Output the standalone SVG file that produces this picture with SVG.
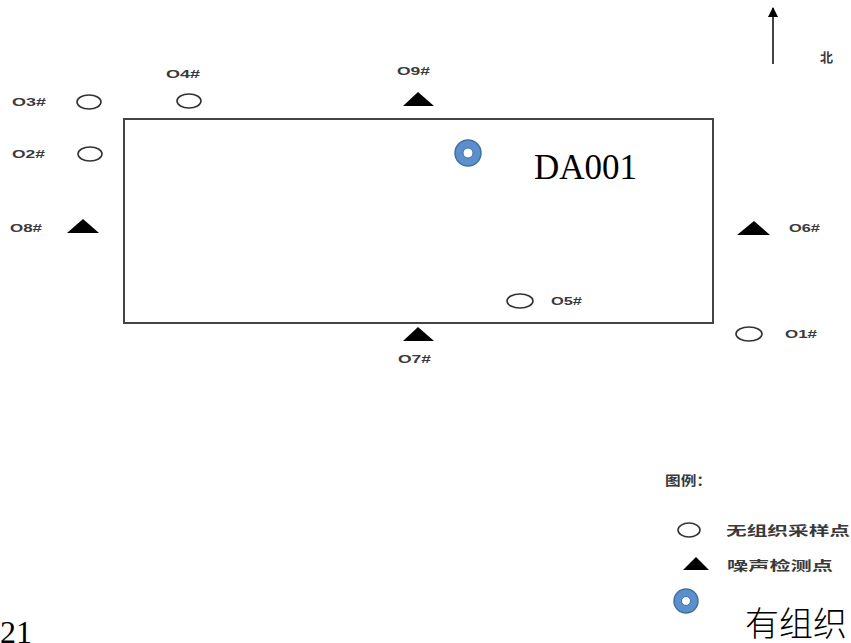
<svg xmlns="http://www.w3.org/2000/svg" width="851" height="643" viewBox="0 0 851 643">
<style>
.lbl{font-family:"Liberation Sans",Arial,sans-serif;font-size:11px;font-weight:bold;fill:#3a3a3a}
.cn{font-family:"Noto Sans CJK SC","Liberation Sans",sans-serif;font-size:13px;font-weight:bold;fill:#3a3a3a}
.ring{fill:none;stroke:#333;stroke-width:1.6}
.tri{fill:#000}
.blue{fill:#5b8fce;stroke:#41719c;stroke-width:1.5}
.hole{fill:#fff;stroke:#41719c;stroke-width:1}
</style>
<defs>
<marker id="ah" markerWidth="10" markerHeight="10" refX="9" refY="5" orient="auto" markerUnits="userSpaceOnUse">
<path d="M0,0 L10,5 L0,10 Z" fill="#000"/>
</marker>
</defs>
<rect width="851" height="643" fill="#fff"/>
<g id="site"><rect x="124" y="119" width="589" height="204" fill="none" stroke="#444" stroke-width="2"/></g>
<g id="connectors">
<line x1="773" y1="64" x2="773" y2="8" stroke="#444" stroke-width="2" marker-end="url(#ah)"/>
</g>
<g id="north"><text x="820" y="62" class="cn" font-size="12">北</text></g>
<g id="p03"><text x="12" y="106" class="lbl" textLength="34" lengthAdjust="spacingAndGlyphs">O3#</text><ellipse cx="89" cy="102" rx="12" ry="7" class="ring"/></g>
<g id="p04"><text x="166" y="78" class="lbl" textLength="34" lengthAdjust="spacingAndGlyphs">O4#</text><ellipse cx="189" cy="101" rx="12" ry="7" class="ring"/></g>
<g id="p02"><text x="12" y="158" class="lbl" textLength="33" lengthAdjust="spacingAndGlyphs">O2#</text><ellipse cx="90" cy="154" rx="12" ry="7" class="ring"/></g>
<g id="p08"><text x="10" y="232" class="lbl" textLength="32" lengthAdjust="spacingAndGlyphs">O8#</text><polygon points="67,233 83,219 99,233" class="tri"/></g>
<g id="p09"><text x="397" y="75" class="lbl" textLength="33" lengthAdjust="spacingAndGlyphs">O9#</text><polygon points="403,106 418,92 434,106" class="tri"/></g>
<g id="pDA001"><circle cx="468" cy="153" r="13" class="blue"/><circle cx="468" cy="153" r="5" class="hole"/><text x="534" y="179" font-family="'Liberation Serif','Times New Roman',serif" font-size="35" fill="#000">DA001</text></g>
<g id="p06"><polygon points="737,235 754,221 770,235" class="tri"/><text x="789" y="232" class="lbl" textLength="31" lengthAdjust="spacingAndGlyphs">O6#</text></g>
<g id="p05"><ellipse cx="520" cy="301" rx="13" ry="7" class="ring"/><text x="551" y="305" class="lbl" textLength="31" lengthAdjust="spacingAndGlyphs">O5#</text></g>
<g id="p01"><ellipse cx="749" cy="334" rx="13" ry="7" class="ring"/><text x="785" y="338" class="lbl" textLength="32" lengthAdjust="spacingAndGlyphs">O1#</text></g>
<g id="p07"><polygon points="403,341 418,327 434,341" class="tri"/><text x="398" y="363" class="lbl" textLength="33" lengthAdjust="spacingAndGlyphs">O7#</text></g>
<g id="legend">
<text x="665" y="485" class="cn" textLength="47" lengthAdjust="spacingAndGlyphs">图例：</text>
<ellipse cx="689" cy="530" rx="11" ry="7" class="ring"/>
<text x="726" y="535" class="cn" textLength="124" lengthAdjust="spacingAndGlyphs">无组织采样点</text>
<polygon points="683,570 696,557 709,570" class="tri"/>
<text x="727" y="570" class="cn" textLength="106" lengthAdjust="spacingAndGlyphs">噪声检测点</text>
<circle cx="686" cy="601" r="12" class="blue"/><circle cx="686" cy="601" r="4.5" class="hole"/>
<text x="745" y="636" font-family="'Noto Sans CJK SC',sans-serif" font-size="34" font-weight="300" fill="#000">有组织</text>
</g>
<text x="0" y="643" font-family="'Liberation Serif','Times New Roman',serif" font-size="32" fill="#000">21</text>
</svg>
